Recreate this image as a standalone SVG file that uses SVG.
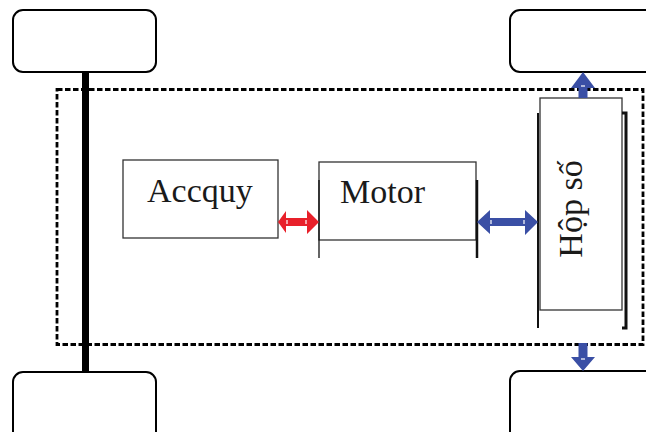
<svg xmlns="http://www.w3.org/2000/svg" width="646" height="432" viewBox="0 0 646 432">
<style>
.wheel{fill:#fff;stroke:#000;stroke-width:2}
.box{fill:#fff;stroke:#333;stroke-width:1.3}
.edge{stroke:#111;fill:none}
.lbl{font-family:"Liberation Serif","Times New Roman",serif;font-size:34px;fill:#1a1a1a}
.red{fill:#e8202a}
.blue{fill:#3a4fa5}
.gap{stroke:#fff;stroke-width:1.2}
</style>
<rect width="646" height="432" fill="#fff"/>
<g id="chassis">
<rect x="57" y="89.5" width="586" height="255" fill="none" stroke="#000" stroke-width="2.8" stroke-dasharray="5.5,2.5"/>
</g>
<g id="axle"><rect x="82" y="72" width="7" height="300" fill="#000"/></g>
<g id="wheel-tl"><rect class="wheel" x="13" y="10" width="143" height="62" rx="10"/></g>
<g id="wheel-bl"><rect class="wheel" x="13" y="372" width="143" height="70" rx="10"/></g>
<g id="wheel-tr"><rect class="wheel" x="510" y="10" width="150" height="62" rx="10"/></g>
<g id="wheel-br"><rect class="wheel" x="510" y="371" width="150" height="70" rx="10"/></g>
<g id="accquy">
<rect class="box" x="123" y="160" width="155" height="78"/>
<text class="lbl" x="147" y="202">Accquy</text>
</g>
<g id="motor">
<rect class="box" x="319" y="162" width="157" height="78"/>
<line class="edge" x1="319" y1="180" x2="319" y2="258" stroke-width="1.3"/>
<line class="edge" x1="477" y1="180" x2="477" y2="258" stroke-width="2.5"/>
<text class="lbl" x="340" y="203">Motor</text>
</g>
<g id="hopso">
<rect class="box" x="540" y="98" width="82" height="212"/>
<line class="edge" x1="538" y1="113" x2="538" y2="328" stroke-width="2"/>
<polyline class="edge" points="622,113 626,113 626,328 622,328" stroke-width="3"/>
<text class="lbl" transform="translate(582,209) rotate(-90)" text-anchor="middle">Hộp số</text>
</g>
<g id="connectors">
<g id="red-arrow">
<polygon class="red" points="278,222 286,211 286,218 307,218 307,210 319,222 307,234 307,226 286,226 286,233"/>
<line class="gap" x1="287" y1="220" x2="287" y2="224"/>
<line class="gap" x1="306" y1="220" x2="306" y2="224"/>
</g>
<g id="blue-arrow">
<polygon class="blue" points="477,222 490,210 490,218 525,218 525,210 538,222 525,235 525,226 490,226 490,234"/>
<line class="gap" x1="491" y1="220" x2="491" y2="224"/>
<line class="gap" x1="524" y1="220" x2="524" y2="224"/>
</g>
<g id="up-arrow">
<polygon class="blue" points="583,72 595,88 587.5,88 587.5,98 578.5,98 578.5,88 571,88"/>
<line class="gap" x1="581" y1="86" x2="585" y2="86"/>
</g>
<g id="down-arrow">
<polygon class="blue" points="578.5,343 587.5,343 587.5,357 595,357 583,371 571,357 578.5,357"/>
<line class="gap" x1="581" y1="359" x2="585" y2="359"/>
</g>
</g>
</svg>
